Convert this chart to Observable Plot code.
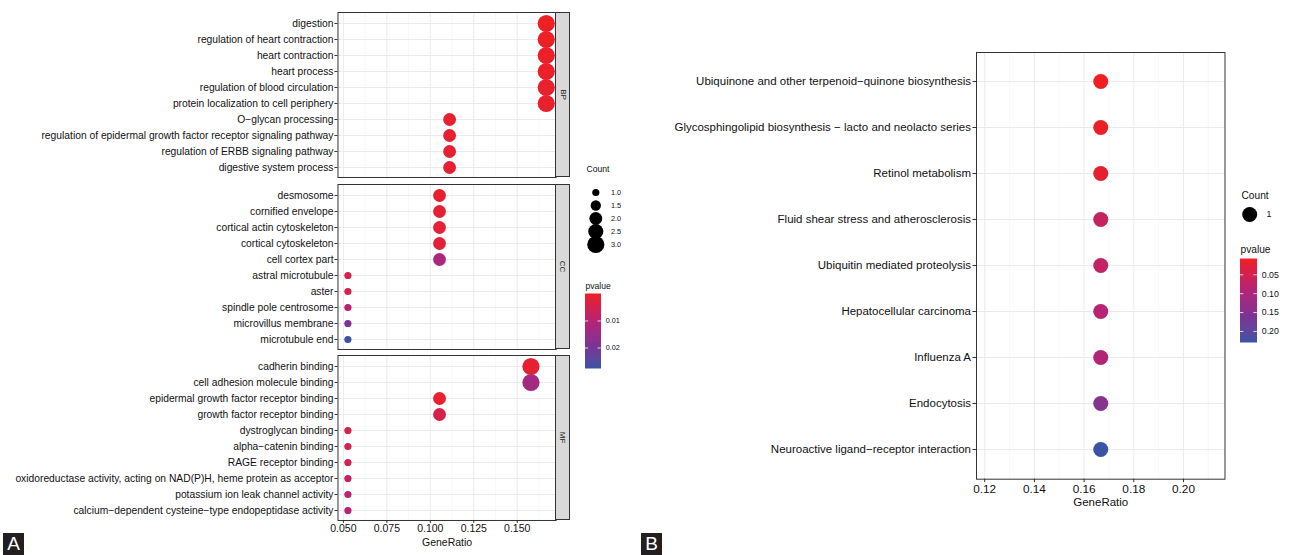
<!DOCTYPE html>
<html><head><meta charset="utf-8">
<script src="https://cdn.jsdelivr.net/npm/d3@7"></script>
<script src="https://cdn.jsdelivr.net/npm/@observablehq/plot@0.6"></script>
<style>
html,body{margin:0;padding:0;background:#fff;}
#fig{position:relative;width:1296px;height:555px;overflow:hidden;font-family:"Liberation Sans",Arial,Helvetica,sans-serif;}
#fig svg{position:absolute;max-width:none;overflow:visible;background:transparent;}
.strip{position:absolute;background:#D9D9D9;border:1px solid #333;box-sizing:border-box;display:flex;align-items:center;justify-content:center;}
.strip span{display:block;transform:rotate(90deg);font-size:8px;color:#1a1a1a;white-space:nowrap;}
.tag{position:absolute;background:#231f20;color:#fff;font-size:19px;line-height:22px;text-align:center;}
</style></head>
<body><div id="fig"></div>
<script>
// ---------- Panel A data (GO) ----------
const bpTerms = ["digestion","regulation of heart contraction","heart contraction","heart process","regulation of blood circulation","protein localization to cell periphery","O−glycan processing","regulation of epidermal growth factor receptor signaling pathway","regulation of ERBB signaling pathway","digestive system process"];
const bpRatio = [0.1667,0.1667,0.1667,0.1667,0.1667,0.1667,0.1111,0.1111,0.1111,0.1111];
const bpCount = [3,3,3,3,3,3,2,2,2,2];
const bpP     = [0.0002,0.0005,0.0007,0.0008,0.0011,0.0013,0.0015,0.0017,0.0018,0.0020];

const ccTerms = ["desmosome","cornified envelope","cortical actin cytoskeleton","cortical cytoskeleton","cell cortex part","astral microtubule","aster","spindle pole centrosome","microvillus membrane","microtubule end"];
const ccRatio = [0.1053,0.1053,0.1053,0.1053,0.1053,0.0526,0.0526,0.0526,0.0526,0.0526];
const ccCount = [2,2,2,2,2,1,1,1,1,1];
const ccP     = [0.0015,0.0019,0.0022,0.0026,0.0120,0.0055,0.0056,0.0100,0.0190,0.0277];

const mfTerms = ["cadherin binding","cell adhesion molecule binding","epidermal growth factor receptor binding","growth factor receptor binding","dystroglycan binding","alpha−catenin binding","RAGE receptor binding","oxidoreductase activity, acting on NAD(P)H, heme protein as acceptor","potassium ion leak channel activity","calcium−dependent cysteine−type endopeptidase activity"];
const mfRatio = [0.1579,0.1579,0.1053,0.1053,0.0526,0.0526,0.0526,0.0526,0.0526,0.0526];
const mfCount = [3,3,2,2,1,1,1,1,1,1];
const mfP     = [0.0015,0.0135,0.0012,0.0050,0.0055,0.0056,0.0060,0.0075,0.0095,0.0100];

const facetLabels = ["BP","CC","MF"];
const xMajorA = [0.050,0.075,0.100,0.125,0.150];
const xMinorA = [0.0625,0.0875,0.1125,0.1375,0.1625];
const countLegendA = [1.0,1.5,2.0,2.5,3.0];
const pTicksA = [0.01,0.02];

// ---------- Panel B data (KEGG) ----------
const keggTerms = ["Ubiquinone and other terpenoid−quinone biosynthesis","Glycosphingolipid biosynthesis − lacto and neolacto series","Retinol metabolism","Fluid shear stress and atherosclerosis","Ubiquitin mediated proteolysis","Hepatocellular carcinoma","Influenza A","Endocytosis","Neuroactive ligand−receptor interaction"];
const keggRatio = [0.1667,0.1667,0.1667,0.1667,0.1667,0.1667,0.1667,0.1667,0.1667];
const keggCount = [1,1,1,1,1,1,1,1,1];
const keggP     = [0.0095,0.012,0.020,0.070,0.075,0.090,0.095,0.150,0.230];
const xMajorB = [0.12,0.14,0.16,0.18,0.20];
const xMinorB = [0.13,0.15,0.17,0.19,0.21];
const countLegendB = [1];
const pTicksB = [0.05,0.10,0.15,0.20];

// ---------- styling ----------
const FONT = '"Liberation Sans", Arial, Helvetica, sans-serif';
const gradStops = [0, 0.4, 0.7, 1];
const gradColors = ["#EE2024", "#B0247A", "#7A3494", "#3A53A5"];
const fig = document.getElementById("fig");
function place(el, left, top){ el.style.left = left + "px"; el.style.top = top + "px"; fig.appendChild(el); return el; }
function colorScale(dom){
  return {type:"linear", domain: gradStops.map(t => dom[0] + t*(dom[1]-dom[0])), range: gradColors, interpolate:d3.interpolateLab};
}

// shared scales for panel A
const allRatioA = bpRatio.concat(ccRatio, mfRatio);
const extA = d3.extent(allRatioA), padA = 0.05*(extA[1]-extA[0]);
const xDomA = [extA[0]-padA, extA[1]+padA];
const pDomA = d3.extent(bpP.concat(ccP, mfP));
const colorA = colorScale(pDomA);
const rA = {type:"sqrt", domain:d3.extent(bpCount.concat(ccCount, mfCount)), range:[3.6, 8.6]};

const pDomB = d3.extent(keggP);
const colorB = colorScale(pDomB);
const rB = {domain:[0, d3.max(keggCount)], range:[0, 7.5]};

const PANEL_H = 165;
const facetTops = [12.3, 183.5, 355];
const A_LEFT = 337.5, A_RIGHT = 555.7;

function facet(terms, ratio, count, pval, top, withAxis){
  const rows = terms.map((t,i)=>({term:t, ratio:ratio[i], count:count[i], p:pval[i]}));
  const mb = withAxis ? 40 : 0;
  const marks = [
    Plot.ruleX(xMinorA, {stroke:"#F3F3F3", strokeWidth:0.6}),
    Plot.ruleX(xMajorA, {stroke:"#EBEBEB", strokeWidth:1}),
    Plot.ruleY(terms, {stroke:"#EBEBEB", strokeWidth:1}),
    Plot.dot(rows, {x:"ratio", y:"term", r:"count", fill:"p"}),
    Plot.frame({stroke:"#333", strokeWidth:1}),
    Plot.axisY({tickSize:3, tickPadding:1.5, fontSize:10.3, stroke:"#333", label:null})
  ];
  if (withAxis) {
    marks.push(Plot.axisX({ticks:xMajorA, tickFormat:d3.format(".3f"), tickSize:3, tickPadding:1.5, fontSize:10.5, stroke:"#333", label:null}));
    marks.push(Plot.text(["GeneRatio"], {frameAnchor:"bottom", lineAnchor:"middle", dy:21.7, fontSize:10.5}));
  }
  const svg = Plot.plot({
    width: A_RIGHT, height: PANEL_H + mb,
    marginLeft: A_LEFT, marginRight: 0, marginTop: 0, marginBottom: mb,
    style: {fontFamily: FONT, color:"#111", background:"transparent"},
    x: {domain: xDomA, axis: withAxis ? undefined : null},
    y: {type:"point", domain: terms, padding:0.6},
    r: rA, color: colorA,
    marks
  });
  return place(svg, 0, top);
}

facet(bpTerms, bpRatio, bpCount, bpP, facetTops[0], false);
facet(ccTerms, ccRatio, ccCount, ccP, facetTops[1], false);
facet(mfTerms, mfRatio, mfCount, mfP, facetTops[2], true);

facetLabels.forEach((lab, i) => {
  const d = document.createElement("div");
  d.className = "strip";
  d.style.width = "15.3px"; d.style.height = PANEL_H + "px";
  d.innerHTML = "<span>" + lab + "</span>";
  place(d, A_RIGHT - 0.5, facetTops[i]);
});

// ---------- legends ----------
function countLegend(values, rOpts, o){
  return Plot.plot({
    width: o.w, height: o.h, margin: 0,
    style: {fontFamily: FONT, color:"#111", background:"transparent"},
    x: {axis:null}, y: {type:"point", domain: values, range: o.yr, axis:null},
    r: rOpts,
    marks: [
      Plot.dot(values, {y: d=>d, r: d=>d, fill:"black", frameAnchor:"left", dx:o.dotDx}),
      Plot.text(values, {y: d=>d, text: o.fmt, frameAnchor:"left", dx:o.labDx, textAnchor:"start", lineAnchor:"middle", fontSize:o.labSize}),
      Plot.text([o.title], {frameAnchor:"top-left", dy:o.titleDy, textAnchor:"start", lineAnchor:"middle", fontSize:o.titleSize})
    ]
  });
}
function colorbar(domain, ticks, colorOpts, o){
  const n = 80, step = (domain[1]-domain[0])/n;
  const slices = d3.range(n).map(i => ({a: domain[0]+i*step, b: domain[0]+(i+1)*step}));
  return Plot.plot({
    width: 70, height: o.gap + o.barH + 2,
    marginTop: o.gap, marginLeft: 0, marginRight: 70 - o.barW, marginBottom: 2,
    style: {fontFamily: FONT, color:"#111", background:"transparent"},
    x: {domain:[0,1], axis:null},
    y: {domain, range:[o.gap, o.gap + o.barH], axis:null},
    color: colorOpts,
    marks: [
      Plot.rect(slices, {x1:0, x2:1, y1:"a", y2:"b", fill: d => (d.a+d.b)/2, shapeRendering:"crispEdges", stroke: d => (d.a+d.b)/2, strokeWidth:0.5}),
      Plot.ruleY(ticks, {x1:0, x2:0.2, stroke:"white", strokeWidth:0.8}),
      Plot.ruleY(ticks, {x1:0.8, x2:1, stroke:"white", strokeWidth:0.8}),
      Plot.text(ticks, {x:1, y: d=>d, dx:o.labDx, text:o.fmt, textAnchor:"start", lineAnchor:"middle", fontSize:o.labSize}),
      Plot.text([o.title], {frameAnchor:"top-left", dy:-o.titleUp, textAnchor:"start", lineAnchor:"middle", fontSize:o.titleSize})
    ]
  });
}

place(countLegend(countLegendA, rA, {w:60, h:115, yr:[34.3, 101], dotDx:9.3, labDx:24.5, labSize:7.3, fmt:d3.format(".1f"), title:"Count", titleDy:19, titleSize:8.6}), 585.7, 150);
place(colorbar(pDomA, pTicksA, colorA, {gap:16, barH:74.3, barW:15.7, labDx:4.5, labSize:7.3, fmt:d3.format(".2f"), title:"pvalue", titleUp:8.3, titleSize:8.6}), 585, 278);

// ---------- Panel B ----------
(function(){
  const rows = keggTerms.map((t,i)=>({term:t, ratio:keggRatio[i], count:keggCount[i], p:keggP[i]}));
  const B_LEFT = 976, B_RIGHT = 1224.5, B_TOP = 52.3, B_H = 426.7, mb = 40;
  const svg = Plot.plot({
    width: B_RIGHT - 640, height: B_H + mb,
    marginLeft: B_LEFT - 640, marginRight: 0, marginTop: 0, marginBottom: mb,
    style: {fontFamily: FONT, color:"#111", background:"transparent"},
    x: {domain:[0.1167, 0.2167]},
    y: {type:"point", domain: keggTerms, padding:0.6},
    r: rB, color: colorB,
    marks: [
      Plot.ruleX(xMinorB, {stroke:"#F3F3F3", strokeWidth:0.6}),
      Plot.ruleX(xMajorB, {stroke:"#EBEBEB", strokeWidth:1}),
      Plot.ruleY(keggTerms, {stroke:"#EBEBEB", strokeWidth:1}),
      Plot.dot(rows, {x:"ratio", y:"term", r:"count", fill:"p"}),
      Plot.frame({stroke:"#333", strokeWidth:1}),
      Plot.axisY({tickSize:3.5, tickPadding:2, fontSize:11.5, stroke:"#333", label:null}),
      Plot.axisX({ticks:xMajorB, tickFormat:d3.format(".2f"), tickSize:3.5, tickPadding:2, fontSize:11.8, stroke:"#333", label:null}),
      Plot.text(["GeneRatio"], {frameAnchor:"bottom", lineAnchor:"middle", dy:23, fontSize:11.5})
    ]
  });
  place(svg, 640, B_TOP);
})();

place(countLegend(countLegendB, rB, {w:60, h:60, yr:[19, 19], dotDx:8.2, labDx:25, labSize:8.8, fmt:d3.format("d"), title:"Count", titleDy:0, titleSize:10.2}), 1240.8, 195);
place(colorbar(pDomB, pTicksB, colorB, {gap:20, barH:83.3, barW:16.8, labDx:4.5, labSize:8.8, fmt:d3.format(".2f"), title:"pvalue", titleUp:10, titleSize:10.2}), 1240.4, 239);

// ---------- panel tags ----------
[["A", 3], ["B", 641]].forEach(([t, x]) => {
  const d = document.createElement("div");
  d.className = "tag"; d.textContent = t;
  d.style.width = "21px"; d.style.height = "22px";
  place(d, x, 533);
});
</script>
</body></html>
